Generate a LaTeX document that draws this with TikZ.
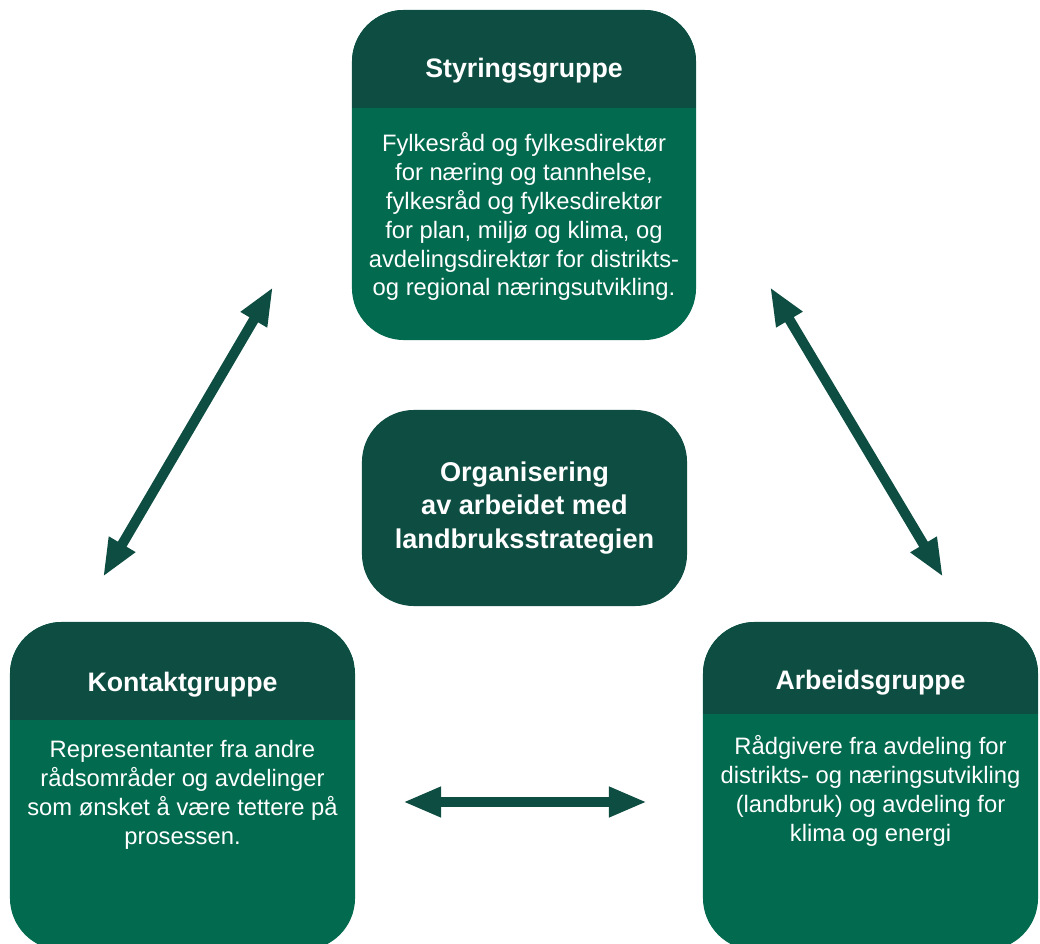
\documentclass[tikz,border=0pt]{standalone}
\usepackage{fontspec}
\setmainfont{Liberation Sans}
\usetikzlibrary{arrows.meta}
\definecolor{moerk}{HTML}{0E4D42}
\definecolor{groenn}{HTML}{026A4E}
\begin{document}
\begin{tikzpicture}[x=0.025cm,y=-0.025cm,
  gruppe/.style={rectangle,rounded corners=1.3cm,fill=groenn,inner sep=0pt,
    path picture={\fill[moerk,sharp corners] (path picture bounding box.north west) rectangle ([yshift=-#1]path picture bounding box.north east);}},
  tittel/.style={text=white,font=\bfseries\fontsize{19}{23}\selectfont,anchor=base,inner sep=0pt},
  tekst/.style={text=white,font=\fontsize{16.9}{20.6}\selectfont,align=center,anchor=north,inner sep=0pt},
  pil/.style={moerk,line width=0.25cm,{Triangle[length=0.95cm,width=0.7cm]}-{Triangle[length=0.95cm,width=0.7cm]}}]
\useasboundingbox (0,0) rectangle (1040,944);
\clip (0,0) rectangle (1040,944);
% grupper
\node[gruppe=2.45cm,minimum width=8.6cm,minimum height=8.25cm] (sty) at (524,175) {};
\node[tittel] (sty-tittel) at ([yshift=-1.7cm]sty.north) {Styringsgruppe};
\node[tekst] (sty-tekst) at ([yshift=-3.05cm]sty.north) {Fylkesråd og fylkesdirektør\\for næring og tannhelse,\\fylkesråd og fylkesdirektør\\for plan, miljø og klima, og\\avdelingsdirektør for distrikts-\\og regional næringsutvikling.};
\node[gruppe=2.45cm,minimum width=8.625cm,minimum height=8.2cm] (kon) at (182.5,786) {};
\node[tittel] (kon-tittel) at ([yshift=-1.75cm]kon.north) {Kontaktgruppe};
\node[tekst] (kon-tekst) at ([yshift=-2.95cm]kon.north) {Representanter fra andre\\rådsområder og avdelinger\\som ønsket å være tettere på\\prosessen.};
\node[gruppe=2.3cm,minimum width=8.375cm,minimum height=8.2cm] (arb) at (870.5,786) {};
\node[tittel] (arb-tittel) at ([yshift=-1.7cm]arb.north) {Arbeidsgruppe};
\node[tekst] (arb-tekst) at ([yshift=-2.83cm]arb.north) {Rådgivere fra avdeling for\\distrikts- og næringsutvikling\\(landbruk) og avdeling for\\klima og energi};
% midten
\node[fill=moerk,rounded corners=1.3cm,minimum width=8.125cm,minimum height=4.9cm,text=white,
  font=\bfseries\fontsize{19.3}{24.1}\selectfont,align=center] (org) at (524.5,508) {Organisering\\av arbeidet med\\landbruksstrategien};
% piler
\coordinate (v1) at (103,577); \coordinate (v2) at (273,287);
\coordinate (h1) at (770,287); \coordinate (h2) at (943,577);
\coordinate (n1) at (403,802); \coordinate (n2) at (647,802);
\draw[pil] (v1) -- (v2);
\draw[pil] (h1) -- (h2);
\draw[pil] (n1) -- (n2);
\end{tikzpicture}
\end{document}
